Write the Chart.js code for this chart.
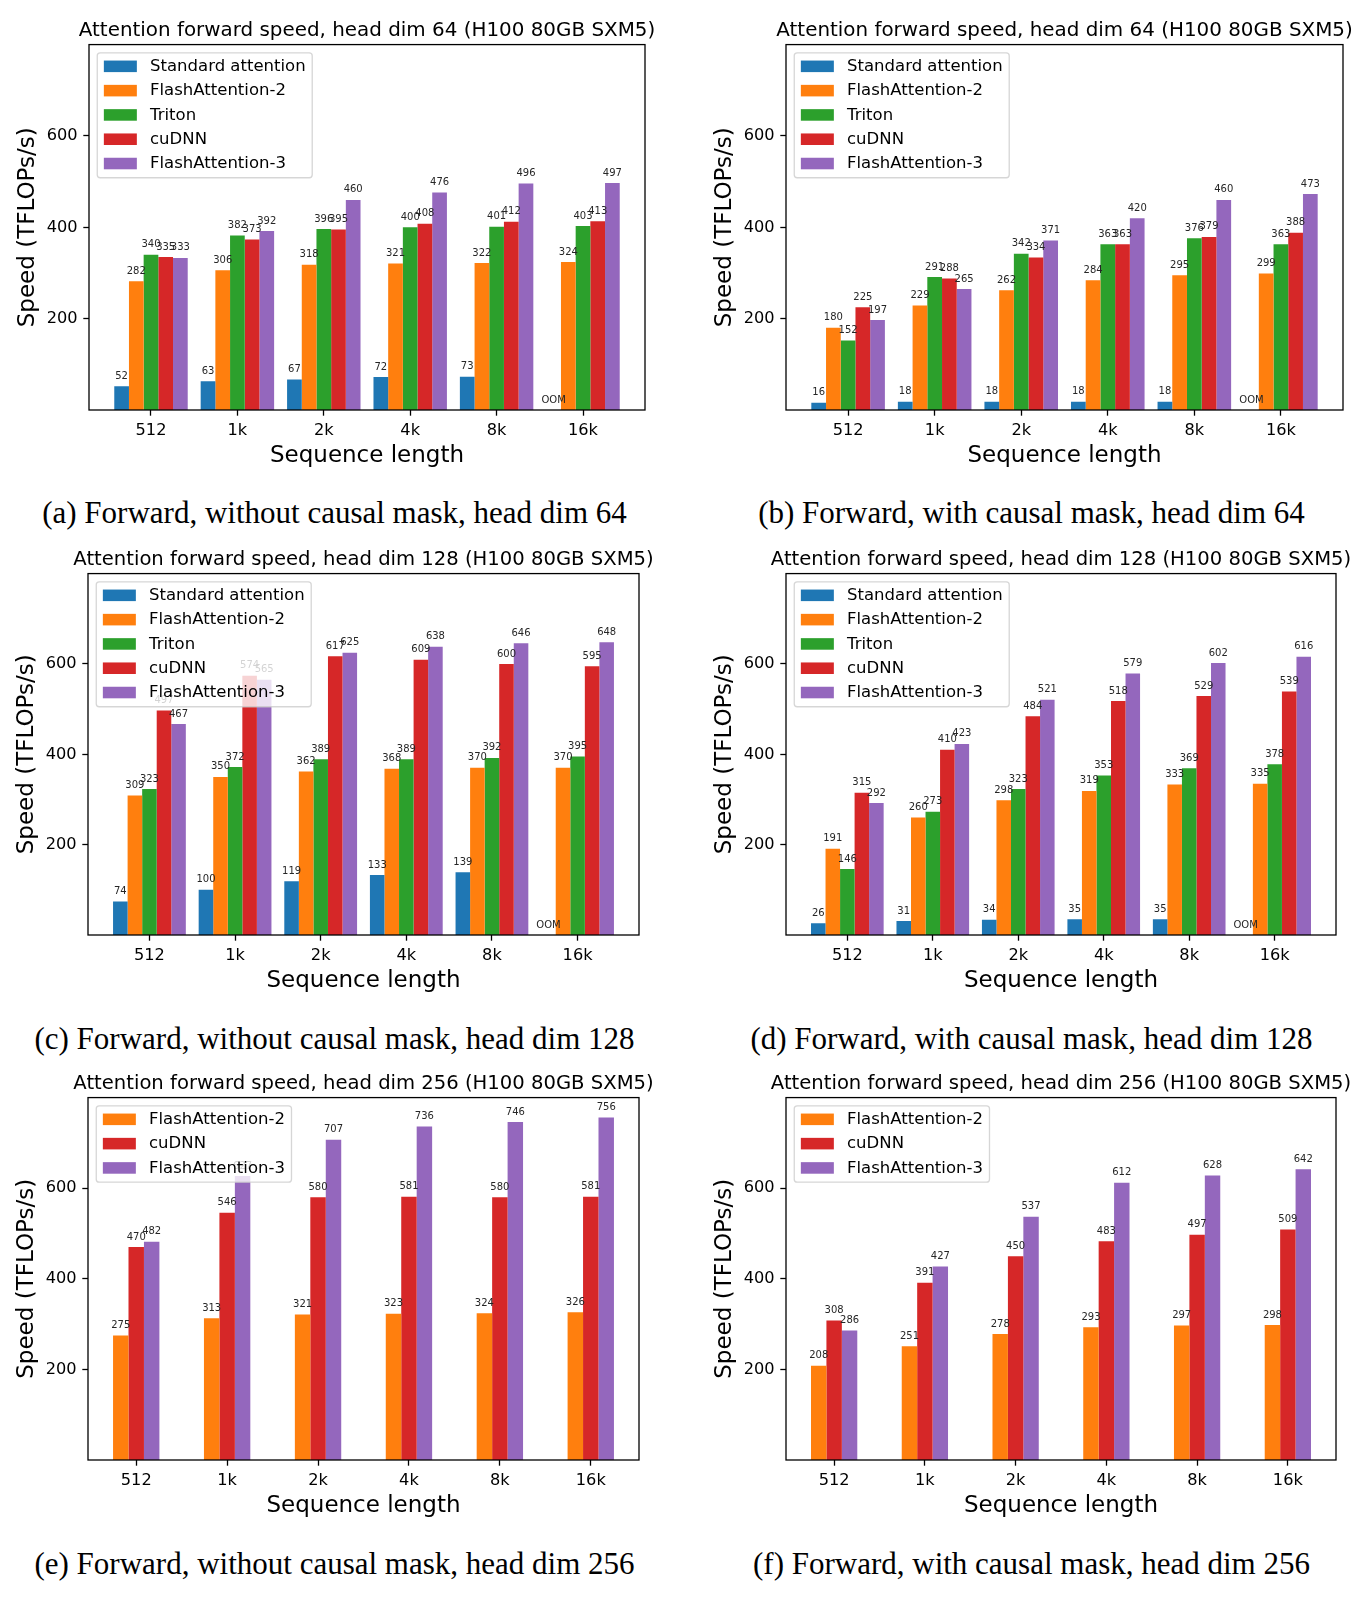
<!DOCTYPE html>
<html><head><meta charset="utf-8">
<script src="https://cdn.jsdelivr.net/npm/chart.js@4.4.1/dist/chart.umd.min.js"></script>
<style>
html,body{margin:0;padding:0;background:#fff;}
body{width:1364px;height:1599px;position:relative;overflow:hidden;}
canvas{position:absolute;}
.cap{position:absolute;width:800px;text-align:center;font-family:'Liberation Serif','Times New Roman',serif;font-size:31px;line-height:31px;color:#000;white-space:nowrap;}
</style></head><body>
<script>
// ---------- data ----------
const seqLabels = ['512','1k','2k','4k','8k','16k'];
const yTickValues = [200, 400, 600];

// (a) forward, no causal mask, head dim 64
const aStandard = [52, 63, 67, 72, 73, null];
const aFA2      = [282, 306, 318, 321, 322, 324];
const aTriton   = [340, 382, 396, 400, 401, 403];
const aCudnn    = [335, 373, 395, 408, 412, 413];
const aFA3      = [333, 392, 460, 476, 496, 497];
// (b) forward, causal mask, head dim 64
const bStandard = [16, 18, 18, 18, 18, null];
const bFA2      = [180, 229, 262, 284, 295, 299];
const bTriton   = [152, 291, 342, 363, 376, 363];
const bCudnn    = [225, 288, 334, 363, 379, 388];
const bFA3      = [197, 265, 371, 420, 460, 473];
// (c) forward, no causal mask, head dim 128
const cStandard = [74, 100, 119, 133, 139, null];
const cFA2      = [309, 350, 362, 368, 370, 370];
const cTriton   = [323, 372, 389, 389, 392, 395];
const cCudnn    = [497, 574, 617, 609, 600, 595];
const cFA3      = [467, 565, 625, 638, 646, 648];
// (d) forward, causal mask, head dim 128
const dStandard = [26, 31, 34, 35, 35, null];
const dFA2      = [191, 260, 298, 319, 333, 335];
const dTriton   = [146, 273, 323, 353, 369, 378];
const dCudnn    = [315, 410, 484, 518, 529, 539];
const dFA3      = [292, 423, 521, 579, 602, 616];
// (e) forward, no causal mask, head dim 256
const eFA2      = [275, 313, 321, 323, 324, 326];
const eCudnn    = [470, 546, 580, 581, 580, 581];
const eFA3      = [482, 627, 707, 736, 746, 756];
// (f) forward, causal mask, head dim 256
const fFA2      = [208, 251, 278, 293, 297, 298];
const fCudnn    = [308, 391, 450, 483, 497, 509];
const fFA3      = [286, 427, 537, 612, 628, 642];

const titles = {
  a: 'Attention forward speed, head dim 64 (H100 80GB SXM5)',
  b: 'Attention forward speed, head dim 64 (H100 80GB SXM5)',
  c: 'Attention forward speed, head dim 128 (H100 80GB SXM5)',
  d: 'Attention forward speed, head dim 128 (H100 80GB SXM5)',
  e: 'Attention forward speed, head dim 256 (H100 80GB SXM5)',
  f: 'Attention forward speed, head dim 256 (H100 80GB SXM5)'
};
const captions = {
  a: '(a) Forward, without causal mask, head dim 64',
  b: '(b) Forward, with causal mask, head dim 64',
  c: '(c) Forward, without causal mask, head dim 128',
  d: '(d) Forward, with causal mask, head dim 128',
  e: '(e) Forward, without causal mask, head dim 256',
  f: '(f) Forward, with causal mask, head dim 256'
};
const xTitle = 'Sequence length';
const yTitle = 'Speed (TFLOPs/s)';
const oomText = 'OOM';

// ---------- styles / layout ----------
const COLORS = {
  'Standard attention': '#1f77b4',
  'FlashAttention-2': '#ff7f0e',
  'Triton': '#2ca02c',
  'cuDNN': '#d62728',
  'FlashAttention-3': '#9467bd'
};
const FONT = '"DejaVu Sans", sans-serif';
Chart.defaults.font.family = FONT;
Chart.defaults.color = '#000';

const panels = [
  { key:'a', series:[['Standard attention',aStandard],['FlashAttention-2',aFA2],['Triton',aTriton],['cuDNN',aCudnn],['FlashAttention-3',aFA3]],
    box:{L:88.5,R:644.8,T:44.3,B:409.4}, cap:{cx:334.5, top:497}, ts:19.9 },
  { key:'b', series:[['Standard attention',bStandard],['FlashAttention-2',bFA2],['Triton',bTriton],['cuDNN',bCudnn],['FlashAttention-3',bFA3]],
    box:{L:786,R:1342.7,T:44.3,B:409.4}, cap:{cx:1031.5, top:497}, ts:19.9 },
  { key:'c', series:[['Standard attention',cStandard],['FlashAttention-2',cFA2],['Triton',cTriton],['cuDNN',cCudnn],['FlashAttention-3',cFA3]],
    box:{L:88.3,R:638.9,T:573.3,B:935}, cap:{cx:334.5, top:1022.8}, ts:19.6 },
  { key:'d', series:[['Standard attention',dStandard],['FlashAttention-2',dFA2],['Triton',dTriton],['cuDNN',dCudnn],['FlashAttention-3',dFA3]],
    box:{L:785.6,R:1336,T:573.3,B:935}, cap:{cx:1031.5, top:1022.8}, ts:19.6 },
  { key:'e', series:[['FlashAttention-2',eFA2],['cuDNN',eCudnn],['FlashAttention-3',eFA3]],
    box:{L:88.3,R:638.9,T:1097.7,B:1460}, cap:{cx:334.5, top:1548}, ts:19.6 },
  { key:'f', series:[['FlashAttention-2',fFA2],['cuDNN',fCudnn],['FlashAttention-3',fFA3]],
    box:{L:785.6,R:1336,T:1097.7,B:1460}, cap:{cx:1031.5, top:1548}, ts:19.6 }
];

const BAR_W = 0.17;          // bar width in category units
const YW = 88;               // left axis block width
const XH = 60;               // bottom axis block height
const TITLE_BLOCK = 8.6 + 19.9 * 1.2 + 2.1;   // height above the axes box
const LEG_FS = 16.5;

const decoPlugin = {
  id: 'deco',
  afterDatasetsDraw(chart) {
    const { ctx, chartArea: ca, scales } = chart;
    const y0 = scales.y.getPixelForValue(0);
    ctx.save();
    // frame (spines)
    ctx.strokeStyle = '#000';
    ctx.lineWidth = 1.3;
    ctx.strokeRect(ca.left, ca.top, ca.right - ca.left, ca.bottom - ca.top);
    // value labels
    ctx.font = '10px ' + FONT;
    ctx.fillStyle = '#262626';
    ctx.textAlign = 'center';
    ctx.textBaseline = 'middle';
    chart.data.datasets.forEach((ds, di) => {
      const meta = chart.getDatasetMeta(di);
      meta.data.forEach((el, i) => {
        const v = ds.data[i].y;
        if (v === null || v === undefined) ctx.fillText(oomText, el.x, y0 - 10);
        else ctx.fillText(String(v), el.x, el.y - 10);
      });
    });
    // legend (matplotlib-like, semi-transparent frame)
    const items = chart.data.datasets.map(d => ({ text: d.label, color: d.backgroundColor }));
    ctx.font = LEG_FS + 'px ' + FONT;
    let tw = 0;
    items.forEach(it => { tw = Math.max(tw, ctx.measureText(it.text).width); });
    const pad = 0.4 * LEG_FS, hl = 2 * LEG_FS, htp = 0.8 * LEG_FS, hh = 0.7 * LEG_FS;
    const rowH = 24.3, firstC = 13.5, lastPad = 14.2;
    const bx = ca.left + 0.5 * LEG_FS, by = ca.top + 0.5 * LEG_FS;
    const bw = 2 * pad + hl + htp + tw;
    const bh = firstC + (items.length - 1) * rowH + lastPad;
    const r = 3;
    ctx.beginPath();
    ctx.moveTo(bx + r, by);
    ctx.lineTo(bx + bw - r, by); ctx.arcTo(bx + bw, by, bx + bw, by + r, r);
    ctx.lineTo(bx + bw, by + bh - r); ctx.arcTo(bx + bw, by + bh, bx + bw - r, by + bh, r);
    ctx.lineTo(bx + r, by + bh); ctx.arcTo(bx, by + bh, bx, by + bh - r, r);
    ctx.lineTo(bx, by + r); ctx.arcTo(bx, by, bx + r, by, r);
    ctx.closePath();
    ctx.fillStyle = 'rgba(255,255,255,0.8)';
    ctx.fill();
    ctx.strokeStyle = 'rgba(204,204,204,0.8)';
    ctx.lineWidth = 1.3;
    ctx.stroke();
    ctx.textAlign = 'left';
    ctx.textBaseline = 'middle';
    items.forEach((it, i) => {
      const cy = by + firstC + i * rowH;
      ctx.fillStyle = it.color;
      ctx.fillRect(bx + pad, cy - hh / 2, hl, hh);
      ctx.fillStyle = '#000';
      ctx.fillText(it.text, bx + pad + hl + htp, cy + 0.5);
    });
    ctx.restore();
  }
};

function tickScaleCommon() {
  return {
    grid: { display: true, drawOnChartArea: false, drawTicks: true, tickLength: 5.7, tickWidth: 1.3, tickColor: '#000', offset: false },
    border: { display: false }
  };
}

function makePanel(p) {
  const g = p.box;
  const left = Math.round(g.L - YW), top = Math.round(g.T - TITLE_BLOCK);
  const w = Math.round(g.R - g.L + 2 * YW);
  const h = Math.round(TITLE_BLOCK + (g.B - g.T) + XH);
  const cv = document.createElement('canvas');
  cv.width = w; cv.height = h;
  cv.style.width = w + 'px'; cv.style.height = h + 'px';
  cv.style.left = left + 'px'; cv.style.top = top + 'px';
  document.body.appendChild(cv);

  const n = p.series.length;
  const half = n * BAR_W / 2;
  const span = (seqLabels.length - 1) + 2 * half;
  const xmin = -half - 0.05 * span, xmax = (seqLabels.length - 1) + half + 0.05 * span;

  const datasets = p.series.map(([name, vals]) => ({
    label: name,
    data: vals.map((v, i) => ({ x: i, y: v })),
    backgroundColor: COLORS[name],
    borderWidth: 0,
    categoryPercentage: n * BAR_W,
    barPercentage: 1.0
  }));

  // keep the title block height constant while allowing a per-row font size
  const tLine = p.ts * 1.2;
  const tPadTop = 8.6 + (19.9 * 1.2 - tLine) / 2;
  const tPadBot = TITLE_BLOCK - tPadTop - tLine;

  const xc = tickScaleCommon(), yc = tickScaleCommon();
  new Chart(cv, {
    type: 'bar',
    data: { datasets },
    options: {
      responsive: false,
      animation: false,
      events: [],
      layout: { padding: 0 },
      plugins: {
        legend: { display: false },
        tooltip: { enabled: false },
        title: { display: true, text: titles[p.key], color: '#000',
                 font: { family: FONT, size: p.ts, weight: 'normal', lineHeight: 1.2 },
                 padding: { top: tPadTop, bottom: tPadBot } }
      },
      scales: {
        x: {
          type: 'linear', bounds: 'data', offset: false, min: xmin, max: xmax,
          afterBuildTicks: s => { s.ticks = seqLabels.map((_, i) => ({ value: i })); },
          afterFit: s => { s.height = XH; },
          ticks: { callback: v => seqLabels[v], font: { size: 16.2 }, color: '#000', padding: 5.7, maxRotation: 0, autoSkip: false },
          grid: xc.grid, border: xc.border,
          title: { display: true, text: xTitle, color: '#000', font: { size: 23, lineHeight: 1.2 }, padding: { top: 0, bottom: 0 } }
        },
        y: {
          type: 'linear', position: 'left', bounds: 'data', min: 0, max: 800,
          afterBuildTicks: s => { s.ticks = yTickValues.map(v => ({ value: v })); },
          afterFit: s => { s.width = YW; },
          ticks: { font: { size: 16.2 }, color: '#000', padding: 5.7 },
          grid: yc.grid, border: yc.border,
          title: { display: true, text: yTitle, color: '#000', font: { size: 23, lineHeight: 1.2 }, padding: { top: 13.5, bottom: 0 } }
        },
        yR: {
          type: 'linear', position: 'right', display: true,
          afterFit: s => { s.width = YW; },
          ticks: { display: false }, grid: { display: false }, border: { display: false }
        }
      }
    },
    plugins: [decoPlugin]
  });

  const cap = document.createElement('div');
  cap.className = 'cap';
  cap.textContent = captions[p.key];
  cap.style.left = (p.cap.cx - 400) + 'px';
  cap.style.top = p.cap.top + 'px';
  document.body.appendChild(cap);
}

panels.forEach(makePanel);
</script>
</body></html>
